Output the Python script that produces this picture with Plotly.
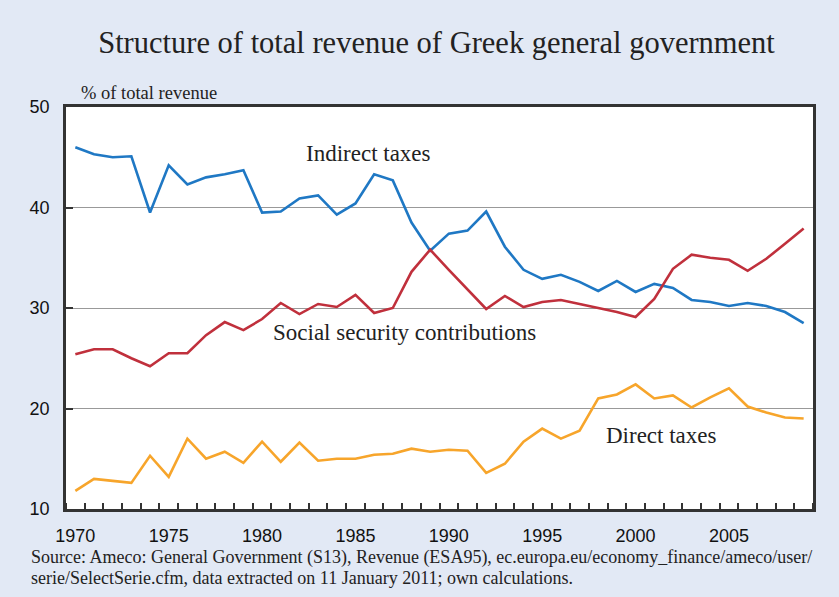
import plotly.graph_objects as go

years = list(range(1970, 2010))

indirect_taxes = [46.0, 45.3, 45.0, 45.1, 39.5, 44.2, 42.3, 43.0, 43.3, 43.7,
                  39.5, 39.6, 40.9, 41.2, 39.3, 40.4, 43.3, 42.7, 38.5, 35.7,
                  37.4, 37.7, 39.6, 36.1, 33.8, 32.9, 33.3, 32.6, 31.7, 32.7,
                  31.6, 32.4, 32.0, 30.8, 30.6, 30.2, 30.5, 30.2, 29.6, 28.5]

social_security = [25.4, 25.9, 25.9, 25.0, 24.2, 25.5, 25.5, 27.3, 28.6, 27.8,
                   28.9, 30.5, 29.4, 30.4, 30.1, 31.3, 29.5, 30.0, 33.6, 35.8,
                   33.8, 31.8, 29.9, 31.2, 30.1, 30.6, 30.8, 30.4, 30.0, 29.6,
                   29.1, 30.9, 33.9, 35.3, 35.0, 34.8, 33.7, 34.9, 36.4, 37.9]

direct_taxes = [11.8, 13.0, 12.8, 12.6, 15.3, 13.2, 17.0, 15.0, 15.7, 14.6,
                16.7, 14.7, 16.6, 14.8, 15.0, 15.0, 15.4, 15.5, 16.0, 15.7,
                15.9, 15.8, 13.6, 14.5, 16.7, 18.0, 17.0, 17.8, 21.0, 21.4,
                22.4, 21.0, 21.3, 20.1, 21.1, 22.0, 20.2, 19.6, 19.1, 19.0]

series_names = ["Indirect taxes", "Social security contributions", "Direct taxes"]
series_colors = ["#1f78c4", "#c0303c", "#f7a52b"]
series_values = [indirect_taxes, social_security, direct_taxes]

title_text = "Structure of total revenue of Greek general government"
unit_text = "% of total revenue"
source_lines = ["Source: Ameco: General Government (S13), Revenue (ESA95), "
                "ec.europa.eu/economy_finance/ameco/user/",
                "serie/SelectSerie.cfm, data extracted on 11 January 2011; own calculations."]

# label anchor positions (data coords)
label_pos = [(1985.7, 45.4), (1987.6, 27.6), (2001.4, 17.3)]

BG = "#e2e9f5"
SERIF = "Liberation Serif, Times New Roman, serif"
SANS = "Liberation Sans, Arial, sans-serif"

W, H = 839, 597
L, R, T, B = 66, 26, 107, 88
PW, PH = W - L - R, H - T - B


def px_to_paper(px, py):
    return (px - L) / PW, (H - B - py) / PH


fig = go.Figure()
for name, col, vals in zip(series_names, series_colors, series_values):
    fig.add_trace(go.Scatter(x=years, y=vals, mode="lines", name=name,
                             line=dict(color=col, width=2.6)))

for name, (lx, ly) in zip(series_names, label_pos):
    fig.add_annotation(x=lx, y=ly, xref="x", yref="y", text=name, showarrow=False,
                       font=dict(family=SERIF, size=23, color="#222"))

ux, uy = px_to_paper(79, 93)
fig.add_annotation(x=ux, y=uy, xref="paper", yref="paper", text=unit_text,
                   showarrow=False, xanchor="left", yanchor="middle",
                   font=dict(family=SERIF, size=18.5, color="#222"))

for i, line in enumerate(source_lines):
    sx, sy = px_to_paper(29, 557 + 21 * i)
    fig.add_annotation(x=sx, y=sy, xref="paper", yref="paper", text=line,
                       showarrow=False, xanchor="left", yanchor="middle",
                       font=dict(family=SERIF, size=18, color="#222"))

fig.update_layout(
    width=W, height=H,
    paper_bgcolor=BG, plot_bgcolor="white",
    margin=dict(l=L, r=R, t=T, b=B),
    showlegend=False,
    title=dict(text=title_text, x=436.5 / W, xanchor="center", y=1 - 42 / H, yanchor="middle",
               font=dict(family=SERIF, size=30.5, color="#222")),
    xaxis=dict(range=[1969.5, 2009.5], tickmode="linear", tick0=1970, dtick=5,
               ticks="", showgrid=False, zeroline=False, ticklabelstandoff=9,
               showline=True, mirror=True, linecolor="#333", linewidth=2.5,
               tickfont=dict(family=SANS, size=18, color="#111"),
               minor=dict(tickmode="linear", tick0=1969.5, dtick=1, ticks="inside",
                          ticklen=6, tickcolor="#333", tickwidth=1.5, showgrid=False)),
    yaxis=dict(range=[10, 50], tickmode="linear", tick0=10, dtick=10,
               ticks="inside", ticklen=7, tickcolor="#333", tickwidth=1.5,
               ticklabelstandoff=10,
               showgrid=True, gridcolor="#999", gridwidth=1.2, zeroline=False,
               showline=True, mirror=True, linecolor="#333", linewidth=2.5,
               tickfont=dict(family=SANS, size=18, color="#111")),
)

fig.write_html("out.html", config={"displayModeBar": False},
               post_script="document.body.style.margin='0';")
